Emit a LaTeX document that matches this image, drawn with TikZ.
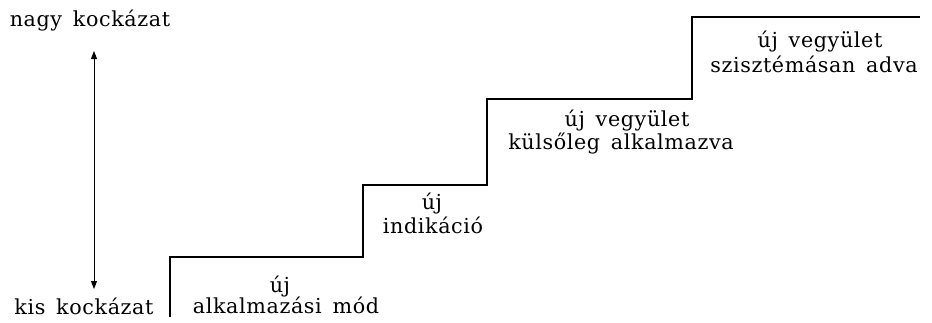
\documentclass[tikz,border=0pt]{standalone}
\usepackage{fontspec}
\setmainfont{DejaVu Serif}[LetterSpace=3,WordSpace=1.5]
\usetikzlibrary{arrows.meta}
\begin{document}
\begin{tikzpicture}[x=0.75pt,y=-0.75pt,
  lbl/.style={anchor=base, inner sep=0pt, font=\fontsize{15.5pt}{18pt}\selectfont},
  stair/.style={line width=1.1pt, line join=miter},
  riskarrow/.style={line width=0.7pt, {Triangle[length=6pt,width=4.5pt]}-{Triangle[length=6pt,width=4.5pt]}}]
\useasboundingbox (0,0) rectangle (932,322);
% staircase corners
\coordinate (p0) at (170,317);
\coordinate (p1) at (170,257);
\coordinate (p2) at (363,257);
\coordinate (p3) at (363,185);
\coordinate (p4) at (487,185);
\coordinate (p5) at (487,99);
\coordinate (p6) at (692,99);
\coordinate (p7) at (692,17);
\coordinate (p8) at (920,17);
\draw[stair] (p0) -- (p1) -- (p2) -- (p3) -- (p4) -- (p5) -- (p6) -- (p7) -- (p8);
% risk axis
\node[lbl] (nagy) at (90,26) {nagy kockázat};
\node[lbl] (kis) at (84,314) {kis kockázat};
\coordinate (atop) at (94,51);
\coordinate (abot) at (94,289);
\draw[riskarrow] (abot) -- (atop);
% step labels
\node[lbl] (s1a) at (280,292) {új};
\node[lbl] (s1b) at (286,313) {alkalmazási mód};
\node[lbl] (s2a) at (432,209) {új};
\node[lbl] (s2b) at (433,233) {indikáció};
\node[lbl] (s3a) at (627,126) {új vegyület};
\node[lbl] (s3b) at (621,149) {külsőleg alkalmazva};
\node[lbl] (s4a) at (820,47) {új vegyület};
\node[lbl] (s4b) at (814,72) {szisztémásan adva};
\end{tikzpicture}
\end{document}
